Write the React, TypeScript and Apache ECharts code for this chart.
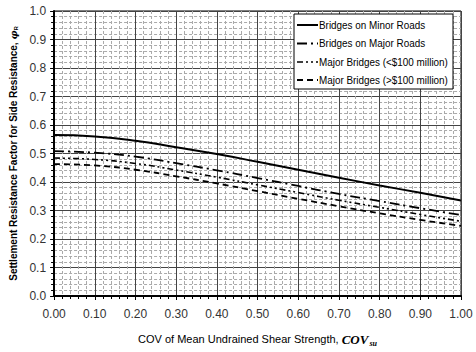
import React, { useEffect, useRef } from "react";
import * as echarts from "echarts";

const xValues = [0, 0.1, 0.2, 0.3, 0.4, 0.5, 0.6, 0.7, 0.8, 0.9, 1.0];
const minorRoads = [0.565, 0.56, 0.545, 0.522, 0.498, 0.471, 0.443, 0.415, 0.388, 0.362, 0.335];
const majorRoads = [0.508, 0.503, 0.489, 0.466, 0.441, 0.414, 0.386, 0.358, 0.333, 0.308, 0.284];
const bridgesUnder = [0.484, 0.479, 0.465, 0.442, 0.417, 0.39, 0.363, 0.336, 0.311, 0.286, 0.262];
const bridgesOver = [0.463, 0.458, 0.443, 0.42, 0.395, 0.368, 0.341, 0.315, 0.29, 0.267, 0.246];
const seriesNames = [
  "Bridges on Minor Roads",
  "Bridges on Major Roads",
  "Major Bridges (<$100 million)",
  "Major Bridges (>$100 million)",
];
const dashes: any[] = ["solid", [10, 4, 2, 4], [6, 3, 2, 3, 2, 3], [6, 4]];
const widths = [2, 1.8, 1.6, 1.8];

export default function App() {
  const ref = useRef<HTMLDivElement>(null);
  useEffect(() => {
    if (!ref.current) return;
    const chart = echarts.init(ref.current, null, { renderer: "svg" });
    const pair = (arr: number[]) => xValues.map((x, i) => [x, arr[i]]);
    const font = "Liberation Sans, Arial, sans-serif";
    const allData = [minorRoads, majorRoads, bridgesUnder, bridgesOver];
    const series = allData.map((d, i) => ({
      name: seriesNames[i],
      type: "line",
      data: pair(d),
      smooth: true,
      showSymbol: false,
      symbol: "none",
      color: "#000",
      lineStyle: { color: "#000", width: widths[i], type: dashes[i] },
      z: 5,
    }));
    const legendChildren: any[] = [
      {
        type: "rect",
        z: 100,
        shape: { x: 294, y: 14, width: 159, height: 75 },
        style: { fill: "#fff", stroke: "#000", lineWidth: 1 },
      },
    ];
    const rowY = [25, 43.5, 62, 80];
    seriesNames.forEach((n, i) => {
      const ld = dashes[i] === "solid" ? null : dashes[i];
      legendChildren.push({
        type: "line",
        z: 101,
        shape: { x1: 297, y1: rowY[i], x2: 318, y2: rowY[i] },
        style: { stroke: "#000", lineWidth: widths[i], lineDash: ld },
      });
      legendChildren.push({
        type: "text",
        z: 101,
        x: 319,
        y: rowY[i],
        scaleX: 0.9,
        style: {
          text: n,
          fontFamily: font,
          fontSize: 11,
          fill: "#000",
          verticalAlign: "middle",
          align: "left",
        },
      });
    });
    chart.setOption({
      animation: false,
      backgroundColor: "#fff",
      grid: { left: 44, right: 15, top: 11, bottom: 51, show: true, borderColor: "#000", borderWidth: 1 },
      graphic: legendChildren,
      xAxis: {
        type: "value",
        min: 0,
        max: 1,
        interval: 0.1,
        name: "{a|COV of Mean Undrained Shear Strength, }{b|COV}{c|su}",
        nameLocation: "middle",
        nameGap: 35,
        nameTextStyle: {
          rich: {
            a: { fontFamily: font, fontSize: 11, color: "#000" },
            b: { fontFamily: "Liberation Serif, serif", fontSize: 13, fontStyle: "italic", fontWeight: "bold", color: "#000" },
            c: { fontFamily: "Liberation Serif, serif", fontSize: 8, fontStyle: "italic", fontWeight: "bold", color: "#000", padding: [8, 0, 0, 1] },
          },
        },
        axisLine: { show: true, lineStyle: { color: "#000", width: 2 } },
        axisTick: { show: true, inside: false, length: 4, lineStyle: { color: "#000" } },
        minorTick: { show: true, splitNumber: 5, length: 3, lineStyle: { color: "#000" } },
        axisLabel: {
          formatter: (v: number) => v.toFixed(2),
          fontFamily: font,
          fontSize: 12,
          color: "#333",
          margin: 12,
        },
        splitLine: { show: true, lineStyle: { color: "#444", width: 1 } },
        minorSplitLine: { show: true, lineStyle: { color: "#aaa", width: 1, type: [3, 2] } },
      },
      yAxis: {
        type: "value",
        min: 0,
        max: 1,
        interval: 0.1,
        name: "{a|Settlement Resistance Factor for Side Resistance, }{b|φ}{c|R}",
        nameLocation: "middle",
        nameGap: 33,
        nameTextStyle: {
          rich: {
            a: { fontFamily: font, fontSize: 10, fontWeight: "bold", color: "#000" },
            b: { fontFamily: "DejaVu Serif, serif", fontSize: 10, fontStyle: "italic", fontWeight: "bold", color: "#000" },
            c: { fontFamily: font, fontSize: 6, fontWeight: "bold", color: "#000", padding: [5, 0, 0, 0] },
          },
        },
        axisLine: { show: true, lineStyle: { color: "#000", width: 2 } },
        axisTick: { show: true, inside: false, length: 4, lineStyle: { color: "#000" } },
        minorTick: { show: true, splitNumber: 5, length: 3, lineStyle: { color: "#000" } },
        axisLabel: {
          formatter: (v: number) => v.toFixed(1),
          fontFamily: font,
          fontSize: 12,
          color: "#333",
          margin: 8,
        },
        splitLine: { show: true, lineStyle: { color: "#444", width: 1 } },
        minorSplitLine: { show: true, lineStyle: { color: "#aaa", width: 1, type: [3, 2] } },
      },
      series,
    });
    return () => chart.dispose();
  }, []);
  return (
    <div
      ref={ref}
      style={{ position: "absolute", left: 0, top: 0, width: 476, height: 352 }}
    />
  );
}
